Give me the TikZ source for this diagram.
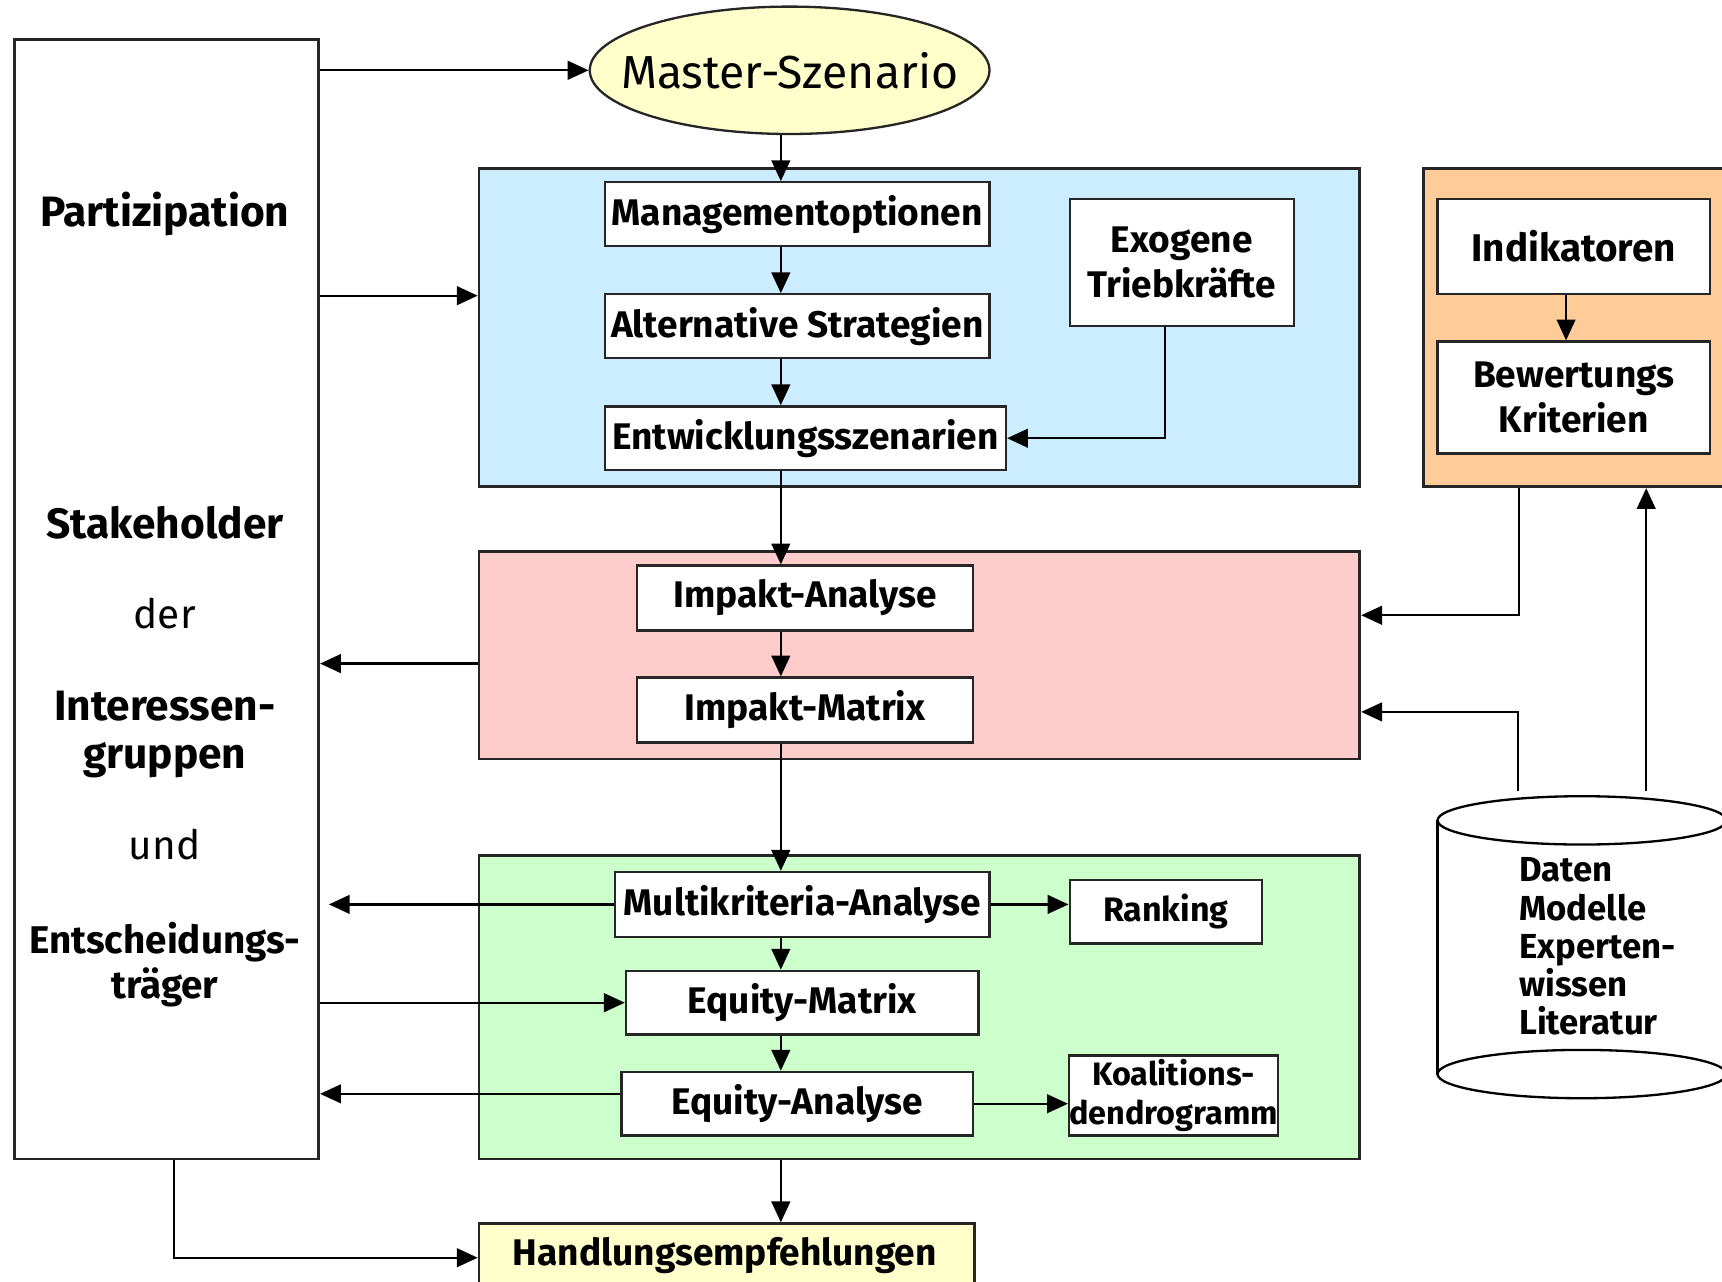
\documentclass[tikz,border=0pt]{standalone}
\usepackage{fontspec}
\setmainfont{Fira Sans}
\usepackage{tikz}
\usetikzlibrary{shapes.geometric, arrows.meta, positioning, calc}
\definecolor{cBlue}{RGB}{204,236,255}
\definecolor{cRose}{RGB}{255,204,204}
\definecolor{cMint}{RGB}{204,255,204}
\definecolor{cPeach}{RGB}{255,204,153}
\definecolor{cCream}{RGB}{255,255,204}
\tikzset{
	phase/.style={rectangle, draw=black!85, line width=0.7pt, anchor=north west, inner sep=0pt},
	task/.style={rectangle, draw=black!85, line width=0.6pt, fill=white, align=center, inner sep=0pt, minimum height=5.8mm},
	flow/.style={-{Triangle[length=1.9mm, width=1.7mm]}, line width=0.6pt},
	sidetxt/.style={font=\fontsize{11}{12.5}\selectfont\bfseries, align=center},
	plaintxt/.style={font=\fontsize{10.5}{12}\selectfont\mdseries},
}

\begin{document}
\begin{tikzpicture}[x=0.1mm, y=-0.1mm, font=\fontsize{9.6}{11.5}\selectfont\bfseries]
\useasboundingbox (0,0) rectangle (1568,1167);

% participation column
\node[phase, minimum width=27.7mm, minimum height=101.9mm] (part) at (12,35) {};
\node[sidetxt] (t1) at (150,195) {Partizipation};
\node[sidetxt] (t2) at (150,476) {Stakeholder};
\node[plaintxt] (t3) at (150,559) {der};
\node[sidetxt] (t4) at (150,669) {Interessen-\\gruppen};
\node[plaintxt] (t5) at (150,769) {und};
\node[sidetxt, font=\fontsize{10}{11.6}\selectfont\bfseries] (t6) at (150,878) {Entscheidungs-\\träger};

% phases
\node[phase, fill=cBlue, minimum width=80.2mm, minimum height=29mm] (blue) at (435,152) {};
\node[phase, fill=cPeach, minimum width=29mm, minimum height=29mm] (peach) at (1295,152) {};
\node[phase, fill=cRose, minimum width=80.2mm, minimum height=18.9mm] (rose) at (435,501) {};
\node[phase, fill=cMint, minimum width=80.2mm, minimum height=27.6mm] (mint) at (435,778) {};
\node[phase, fill=cCream, minimum width=45.1mm, minimum height=6.2mm] (hand) at (435,1113) {};
\node (handtxt) at (660,1143) {Handlungsempfehlungen};

\node[ellipse, draw=black!85, line width=0.6pt, fill=cCream, minimum width=36.4mm, minimum height=11.6mm,
	inner xsep=-3.3mm, inner ysep=0pt, font=\fontsize{12}{14}\selectfont\mdseries] (master) at (719,64) {Master-Szenario};

% data store
\draw[line width=0.6pt, fill=white] (1309,747) -- (1309,978) -- (1572,978) -- (1572,747);
\draw[line width=0.6pt, fill=white] (1440.5,978) ellipse [x radius=13.15mm, y radius=2.2mm];
\draw[line width=0.6pt, fill=white] (1440.5,747) ellipse [x radius=13.15mm, y radius=2.2mm];
\node[align=left, anchor=west, font=\fontsize{9}{9.9}\selectfont\bfseries] (db) at (1371,862)
	{Daten\\Modelle\\Experten-\\wissen\\Literatur};

% boxes
\node[task, minimum width=35mm] (mgmt) at (726,195) {Managementoptionen};
\node[task, minimum width=35mm] (alt) at (726,297) {Alternative Strategien};
\node[task, minimum width=36.5mm] (entw) at (733.5,399) {Entwicklungsszenarien};
\node[task, minimum width=20.4mm, minimum height=11.6mm] (exo) at (1076,239) {Exogene\\Triebkräfte};
\node[task, minimum width=24.8mm, minimum height=8.7mm, font=\fontsize{10}{11.5}\selectfont\bfseries] (indi) at (1433,224.5) {Indikatoren};
\node[task, minimum width=24.8mm, minimum height=10.2mm] (bew) at (1433,362) {Bewertungs\\Kriterien};
\node[task, minimum width=30.6mm, minimum height=5.9mm] (ia) at (733,544.5) {Impakt-Analyse};
\node[task, minimum width=30.6mm, minimum height=5.9mm] (im) at (733,646.5) {Impakt-Matrix};
\node[task, minimum width=34.1mm, minimum height=5.9mm] (mka) at (730.5,823.5) {Multikriteria-Analyse};
\node[task, minimum width=17.5mm, font=\fontsize{8.8}{10}\selectfont\bfseries] (rank) at (1061.5,830) {Ranking};
\node[task, minimum width=32.1mm] (em) at (730.5,913) {Equity-Matrix};
\node[task, minimum width=32mm] (ea) at (726,1005) {Equity-Analyse};
\node[task, minimum width=18.9mm, minimum height=7.3mm, font=\fontsize{8.4}{9.9}\selectfont\bfseries] (koal) at (1068.5,997.5) {Koalitions-\\dendrogramm};

% main chain
\coordinate (axis) at (711,0);
\draw[flow] (master.south -| axis) -- (mgmt.north -| axis);
\draw[flow] (mgmt.south -| axis) -- (alt.north -| axis);
\draw[flow] (alt.south -| axis) -- (entw.north -| axis);
\draw[flow] (entw.south -| axis) -- (ia.north -| axis);
\draw[flow] (ia.south -| axis) -- (im.north -| axis);
\draw[flow] (im.south -| axis) -- (mka.north -| axis);
\draw[flow] (mka.south -| axis) -- (em.north -| axis);
\draw[flow] (em.south -| axis) -- (ea.north -| axis);
\draw[flow] (mint.south -| axis) -- (hand.north -| axis);
\draw[flow] ([xshift=-1.5mm]exo.south) |- (entw.east);
\draw[flow] ([xshift=-0.7mm]indi.south) -- ([xshift=-0.7mm]bew.north);
\draw[flow] (mka.east) -- (rank.west |- mka.east);
\draw[flow] (ea.east) -- (koal.west |- ea.east);

% links with the stakeholders
\coordinate (inBlue) at ([yshift=2.9mm]blue.west);
\coordinate (outRose) at ([yshift=-0.75mm]rose.west);
\coordinate (outEa) at ([yshift=0.9mm]ea.west);
\draw[flow] (part.east |- master.west) -- (master.west);
\draw[flow] (part.east |- inBlue) -- (inBlue);
\draw[flow] (outRose) -- (part.east |- outRose);
\draw[flow] (mka.west) -- ([xshift=0.8mm]part.east |- mka.west);
\draw[flow] (part.east |- em.west) -- (em.west);
\draw[flow] (outEa) -- (part.east |- outEa);
\draw[flow] ([xshift=0.65mm]part.south) |- (hand.west);

% criteria and data feed
\coordinate (dbL) at (1382,720);
\coordinate (dbR) at (1499,720);
\draw[flow] ([xshift=-5.8mm]peach.south) |- ([yshift=3.65mm]rose.east);
\draw[flow] (dbL) |- ([yshift=-5.15mm]rose.east);
\draw[flow] (dbR) -- (peach.south -| dbR);
\end{tikzpicture}
\end{document}
